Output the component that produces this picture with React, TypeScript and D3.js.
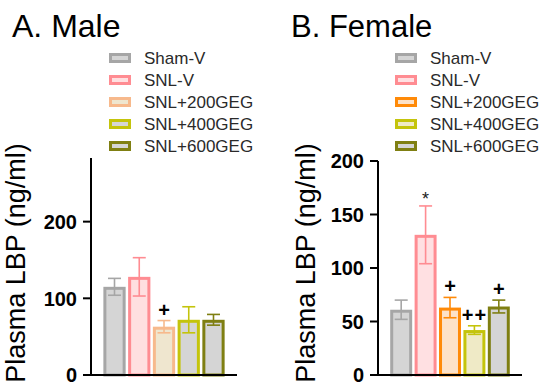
import React, { useEffect, useRef } from 'react'
import * as d3 from 'd3'

const groups = ['Sham-V', 'SNL-V', 'SNL+200GEG', 'SNL+400GEG', 'SNL+600GEG']

const maleMeans = [115, 128, 63, 72, 72]
const maleSem = [11, 25, 8, 17, 7]
const maleMarks = ['', '', '+', '', '']
const maleTicks = [0, 100, 200]

const femaleMeans = [61, 131, 63, 42, 64]
const femaleSem = [9, 27, 9.5, 4, 6]
const femaleMarks = ['', '*', '+', '++', '+']
const femaleTicks = [0, 50, 100, 150, 200]

const strokes = ['#a6a6a6', '#ff8c92', '#f7b98c', '#c4c40c', '#7f7f12']
const maleFills = ['#d5d5d5', '#ffdfe0', '#efe6cf', '#d5d5d5', '#d5d5d5']
const femaleStrokes = ['#a6a6a6', '#ff8c92', '#ff8a08', '#c4c40c', '#7f7f12']
const femaleFills = ['#d5d5d5', '#ffe0e2', '#fde2c8', '#efeac6', '#d5d5d5']

interface Panel {
  title: string
  left: number
  means: number[]
  sem: number[]
  marks: string[]
  ticks: number[]
  yMax: number
  yTop: number
  xEnd: number
  stroke: string[]
  fill: string[]
  legendX: number
  labelX: number
}

export default function App() {
  const svgRef = useRef<SVGSVGElement>(null)

  useEffect(() => {
    if (!svgRef.current) return
    const svg = d3.select(svgRef.current)
    svg.selectAll('*').remove()

    const panels: Panel[] = [
      {
        title: 'A. Male', left: 91, means: maleMeans, sem: maleSem, marks: maleMarks,
        ticks: maleTicks, yMax: 283, yTop: 158, xEnd: 237, stroke: strokes, fill: maleFills,
        legendX: 109, labelX: 25
      },
      {
        title: 'B. Female', left: 378, means: femaleMeans, sem: femaleSem, marks: femaleMarks,
        ticks: femaleTicks, yMax: 200, yTop: 161, xEnd: 522, stroke: femaleStrokes, fill: femaleFills,
        legendX: 395, labelX: 315
      }
    ]

    const base = 375

    panels.forEach((p, pi) => {
      const g = svg.append('g')

      const y = d3.scaleLinear().domain([0, p.yMax]).range([base, p.yTop])
      const x = d3.scaleBand<string>()
        .domain(groups)
        .range([p.left, p.xEnd])
        .paddingInner(0.1)
        .paddingOuter(0.5)

      // title
      g.append('text')
        .attr('x', pi === 0 ? 12 : 291)
        .attr('y', 37)
        .attr('font-family', 'Liberation Sans, Arial, sans-serif')
        .attr('font-size', pi === 0 ? 32 : 31)
        .attr('fill', '#000')
        .text(p.title)

      // legend
      const leg = g.append('g')
      groups.forEach((name, i) => {
        const cy = 58 + i * 22
        leg.append('rect')
          .attr('x', p.legendX + 1.5)
          .attr('y', cy - 3.5)
          .attr('width', 19)
          .attr('height', 7)
          .attr('fill', p.fill[i])
          .attr('stroke', p.stroke[i])
          .attr('stroke-width', 3)
        leg.append('text')
          .attr('x', p.legendX + 35)
          .attr('y', cy)
          .attr('dy', '0.35em')
          .attr('font-family', 'Liberation Sans, Arial, sans-serif')
          .attr('font-size', 17)
          .attr('fill', '#2a2a2a')
          .text(name)
      })

      // bars
      groups.forEach((name, i) => {
        const bx = x(name)!
        const bw = x.bandwidth()
        const top = y(p.means[i])
        g.append('rect')
          .attr('x', bx + 1.5)
          .attr('y', top + 1.5)
          .attr('width', bw - 3)
          .attr('height', base - top - 1.5)
          .attr('fill', p.fill[i])
          .attr('stroke', p.stroke[i])
          .attr('stroke-width', 3)

        const cx = bx + bw / 2
        const hi = y(p.means[i] + p.sem[i])
        const lo = y(p.means[i] - p.sem[i])
        const ec = p.stroke[i]
        g.append('line').attr('x1', cx).attr('x2', cx).attr('y1', hi).attr('y2', lo)
          .attr('stroke', ec).attr('stroke-width', 1.6)
        g.append('line').attr('x1', cx - 6.5).attr('x2', cx + 6.5).attr('y1', hi).attr('y2', hi)
          .attr('stroke', ec).attr('stroke-width', 1.6)
        g.append('line').attr('x1', cx - 6.5).attr('x2', cx + 6.5).attr('y1', lo).attr('y2', lo)
          .attr('stroke', ec).attr('stroke-width', 1.6)

        const m = p.marks[i]
        if (m === '*') {
          g.append('text')
            .attr('x', cx).attr('y', hi - 11 + 10)
            .attr('text-anchor', 'middle')
            .attr('font-family', 'Liberation Sans, Arial, sans-serif')
            .attr('font-size', 18)
            .attr('fill', '#222')
            .text(m)
        } else if (m) {
          g.append('text')
            .attr('x', cx).attr('y', hi - 11 + 7)
            .attr('text-anchor', 'middle')
            .attr('font-family', 'Liberation Sans, Arial, sans-serif')
            .attr('font-weight', 'bold')
            .attr('font-size', 20)
            .attr('fill', '#000')
            .attr('letter-spacing', m.length > 1 ? 1 : 0)
            .text(m)
        }
      })

      // axes
      g.append('line')
        .attr('x1', p.left - 8).attr('x2', p.xEnd)
        .attr('y1', base).attr('y2', base)
        .attr('stroke', '#000').attr('stroke-width', 2)
      g.append('line')
        .attr('x1', p.left).attr('x2', p.left)
        .attr('y1', p.yTop).attr('y2', base)
        .attr('stroke', '#000').attr('stroke-width', 2)

      p.ticks.forEach(t => {
        const ty = y(t)
        g.append('line')
          .attr('x1', p.left - 8).attr('x2', p.left)
          .attr('y1', ty).attr('y2', ty)
          .attr('stroke', '#000').attr('stroke-width', 2)
        g.append('text')
          .attr('x', p.left - 14)
          .attr('y', ty)
          .attr('dy', '0.36em')
          .attr('text-anchor', 'end')
          .attr('font-family', 'Liberation Sans, Arial, sans-serif')
          .attr('font-weight', 'bold')
          .attr('font-size', 20)
          .attr('fill', '#000')
          .text(t)
      })

      // y label
      g.append('text')
        .attr('transform', `translate(${p.labelX},263) rotate(-90)`)
        .attr('text-anchor', 'middle')
        .attr('font-family', 'Liberation Sans, Arial, sans-serif')
        .attr('font-size', 27)
        .attr('fill', '#000')
        .text('Plasma LBP (ng/ml)')
    })
  }, [])

  return (
    <svg
      ref={svgRef}
      width={550}
      height={391}
      style={{ position: 'absolute', left: 0, top: 0, background: '#fff' }}
    ></svg>
  )
}
